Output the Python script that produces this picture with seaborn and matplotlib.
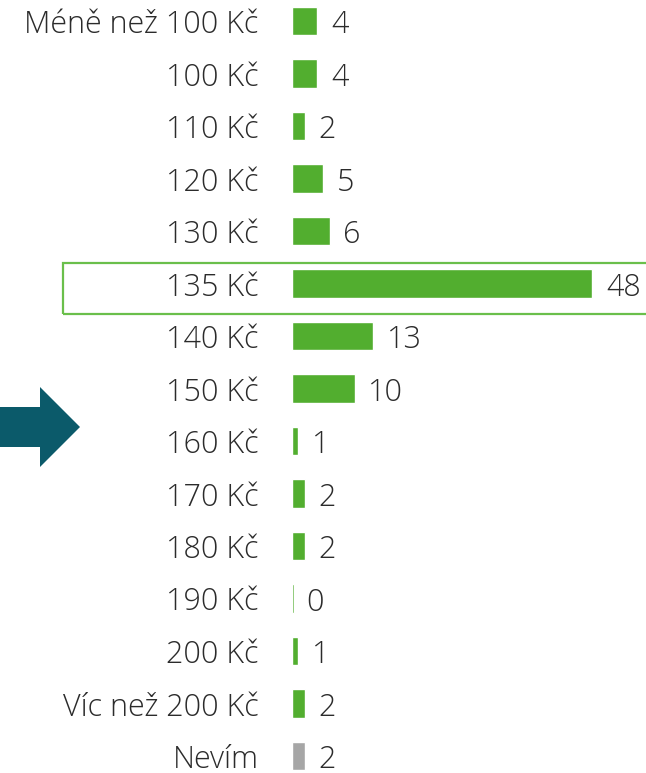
import matplotlib
matplotlib.use("Agg")
import matplotlib.pyplot as plt
import seaborn as sns
from matplotlib.patches import Rectangle, Polygon

categories = ["Méně než 100 Kč", "100 Kč", "110 Kč", "120 Kč", "130 Kč", "135 Kč",
              "140 Kč", "150 Kč", "160 Kč", "170 Kč", "180 Kč", "190 Kč", "200 Kč",
              "Víc než 200 Kč", "Nevím"]
values = [4, 4, 2, 5, 6, 48, 13, 10, 1, 2, 2, 0, 1, 2, 2]
bar_colors = ["#52ae2f"] * 14 + ["#a6a6a6"]

sns.set_style("white")
plt.rcParams["font.family"] = ["Open Sans", "DejaVu Sans"]
text_color = "#2b2b2b"
fsize = 22

W, H = 646, 773
fig = plt.figure(figsize=(W / 100, H / 100), dpi=100)
ax = fig.add_axes([292 / W, 0, 1 - 292 / W, 1])

sns.barplot(x=values, y=categories, hue=categories, palette=bar_colors,
            legend=False, ax=ax, width=0.54, orient="h", saturation=1)

# zero-value bar still shows a hairline
for bar, v in zip(ax.patches, values):
    if v == 0:
        bar.set_width(0.3)

ax.set_xlim(0, 48 * (W - 292) / 300)
ax.set_ylim(14 + 17 / 52.5, -21 / 52.5)
ax.set_xticks([])
ax.set_yticks(range(len(categories)))
ax.set_yticklabels(categories, fontsize=fsize, color=text_color, fontweight="light")
ax.tick_params(axis="y", length=0, pad=24)
ax.set_xlabel("")
ax.set_ylabel("")
sns.despine(ax=ax, left=True, bottom=True)

for i, v in enumerate(values):
    ax.annotate(str(v), xy=(v, i), xytext=(10, -3), textcoords="offset points",
                ha="left", va="center", fontsize=fsize, color=text_color,
                fontweight="light")

# highlight box around 135 Kč
fig.patches.append(Rectangle((63 / W, 1 - 314 / H), (W - 63) / W + 0.01, 51 / H,
                             transform=fig.transFigure, fill=False,
                             edgecolor="#6abf4b", linewidth=1.6))

# arrow on the left
arrow_pts = [(0, 407), (40, 407), (40, 387), (80, 427), (40, 467), (40, 447), (0, 447)]
fig.patches.append(Polygon([(x / W, 1 - y / H) for x, y in arrow_pts],
                           closed=True, transform=fig.transFigure,
                           facecolor="#0b5a6a", edgecolor="none"))

fig.savefig("out.png", dpi=100)
